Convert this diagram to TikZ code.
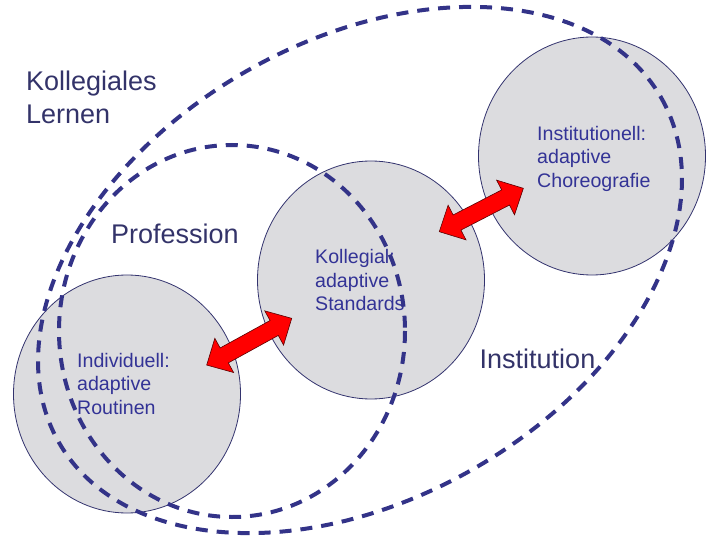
\documentclass[tikz,border=0pt]{standalone}
\usepackage{fontspec}
\setmainfont{Liberation Sans}
\usetikzlibrary{shapes.geometric}
\definecolor{navydash}{RGB}{51,51,136}
\definecolor{circline}{RGB}{51,51,110}
\definecolor{discfill}{RGB}{220,220,223}
\definecolor{smalltext}{RGB}{51,51,150}
\definecolor{bigtext}{RGB}{51,51,105}
\definecolor{arrowline}{RGB}{90,0,0}
\tikzset{
  disc/.style={ellipse, draw=circline, line width=0.8bp, fill=discfill,
    minimum width=227bp, minimum height=238bp, inner sep=0pt},
  smalltxt/.style={anchor=north west, inner sep=0pt, align=left, text=smalltext,
    font=\fontsize{19.6bp}{23.5bp}\selectfont},
  bigtxt/.style={anchor=north west, inner sep=0pt, align=left, text=bigtext,
    font=\fontsize{27bp}{33bp}\selectfont},
  ring/.style={draw=navydash, line width=4bp, dash pattern=on 12bp off 9bp},
  blockarrow/.style={fill=red, draw=arrowline, line width=0.6bp, line join=miter}
}
\begin{document}
\begin{tikzpicture}[x=1bp,y=-1bp]
\useasboundingbox (0,0) rectangle (720,540);
% circles
\node[disc] (indiv) at (127,394) {};
\node[disc] (koll) at (371,280) {};
\node[disc] (inst) at (592,156) {};
% texts
\node[bigtxt] (lernen) at (26,70.7) {Kollegiales\\Lernen};
\node[bigtxt] (prof) at (111,223.7) {Profession};
\node[bigtxt] (instlabel) at (479.5,349) {Institution};
\node[smalltxt] (indivtxt) at (77,352.7) {Individuell:\\adaptive\\Routinen};
\node[smalltxt] (kolltxt) at (315,249.3) {Kollegial:\\adaptive\\Standards};
\node[smalltxt] (insttxt) at (537,126) {Institutionell:\\adaptive\\Choreografie};
% dashed regions
\draw[ring, rotate around={29.8:(360,270)}] (360,270) ellipse [x radius=347, y radius=229];
\draw[ring] (232,331) ellipse [x radius=173, y radius=186];
% block arrows
\begin{scope}[shift={(249.2,341.7)}, rotate=28.8]
  \draw[blockarrow] (48.5,0) -- (28.5,19.5) -- (28.5,8.5) -- (-28.5,8.5) -- (-28.5,19.5)
    -- (-48.5,0) -- (-28.5,-19.5) -- (-28.5,-8.5) -- (28.5,-8.5) -- (28.5,-19.5) -- cycle;
\end{scope}
\begin{scope}[shift={(481.3,210)}, rotate=27.3]
  \draw[blockarrow] (47.3,0) -- (27.3,19.5) -- (27.3,8.5) -- (-27.3,8.5) -- (-27.3,19.5)
    -- (-47.3,0) -- (-27.3,-19.5) -- (-27.3,-8.5) -- (27.3,-8.5) -- (27.3,-19.5) -- cycle;
\end{scope}
\end{tikzpicture}
\end{document}
